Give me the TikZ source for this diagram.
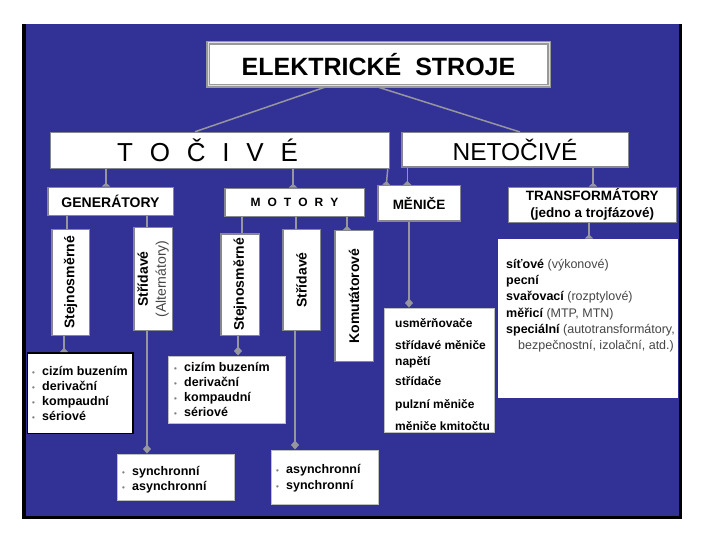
\documentclass[tikz,border=0pt]{standalone}
\usepackage{fontspec}
\setmainfont{Liberation Sans}
\usetikzlibrary{arrows.meta}

\definecolor{pozadi}{RGB}{50,50,150}
\definecolor{pozaditmave}{RGB}{27,27,92}
\definecolor{ramecek}{RGB}{135,135,145}
\definecolor{spoj}{RGB}{150,150,158}
\definecolor{zavorka}{RGB}{70,70,70}

\tikzset{
  krabice/.style={draw=ramecek, line width=1.5pt, fill=white, inner sep=0pt},
  svisla/.style={krabice, rotate=90, align=center,
    font=\fontsize{14}{18}\selectfont\bfseries},
  seznam/.style={draw=gray!50, line width=1pt, fill=white, inner sep=0pt},
  popis seznamu/.style={anchor=north west, inner sep=0pt, align=left,
    font=\fontsize{12.5}{15}\selectfont\bfseries},
  spojnice/.style={draw=spoj, line width=1.5pt},
  rozsireni/.style={spojnice, -{Triangle[reversed, length=4pt, width=8pt]}},
  kosoctverec/.style={spojnice, -{Diamond[length=9pt, width=8pt]}}
}
\newcommand{\odrazka}{\makebox[10pt][l]{\color{gray}\fontsize{8}{8}\selectfont •}}
\newcommand{\zav}[1]{{\mdseries\color{zavorka}#1}}

\begin{document}
\begin{tikzpicture}[x=1pt, y=-1pt]
  \useasboundingbox (0,0) rectangle (720,540);
  % pozadi
  \fill[black] (22,24) rectangle (682,519);
  \shade[top color=pozadi, middle color=pozaditmave, bottom color=pozadi] (26,25) rectangle (679,515);

  % horni uroven
  \node[krabice, draw=gray!80, double=gray!25, double distance=1pt, minimum width=341pt, minimum height=43pt,
    font=\fontsize{25}{30}\selectfont\bfseries] (stroje) at (378.5,64.4) {ELEKTRICKÉ\ \ STROJE};
  \node[krabice, minimum width=339pt, minimum height=36pt, font=\fontsize{26}{30}\selectfont] (tocive) at (220,150.5)
    {\spaceskip=16.8pt T O Č I V É\kern25pt};
  \node[krabice, minimum width=226.5pt, minimum height=34.5pt, font=\fontsize{24.5}{30}\selectfont] (netocive) at (515,150) {NETOČIVÉ};

  % druha uroven
  \node[krabice, minimum width=125.5pt, minimum height=28pt, font=\fontsize{14}{16}\selectfont\bfseries] (generatory) at (110.5,201.3) {GENERÁTORY};
  \node[krabice, minimum width=139.5pt, minimum height=28pt, font=\fontsize{12}{16}\selectfont\bfseries] (motory) at (294.5,202.3)
    {\spaceskip=7pt M O T O R Y};
  \node[krabice, minimum width=82.5pt, minimum height=35.5pt, font=\fontsize{13.5}{16}\selectfont\bfseries] (menice) at (419,203.5) {MĚNIČE};
  \node[krabice, minimum width=168pt, minimum height=35pt, align=center, font=\fontsize{13.5}{17}\selectfont\bfseries] (trans) at (592.3,204.8)
    {TRANSFORMÁTORY\\(jedno a trojfázové)};

  % svisle krabice
  \node[svisla, minimum width=105.5pt, minimum height=37.5pt] (gstejn) at (70.5,282.5) {Stejnosměrné};
  \node[svisla, minimum width=102.5pt, minimum height=38.5pt] (alt) at (153,279) {Střídavé\\\zav{(Alternátory)}};
  \node[svisla, minimum width=101.5pt, minimum height=38.5pt] (mstejn) at (240,284.5) {Stejnosměrné};
  \node[svisla, minimum width=100.5pt, minimum height=37.5pt] (mstr) at (301.5,280) {Střídavé};
  \node[svisla, minimum width=130.5pt, minimum height=38.5pt] (komut) at (354,296) {Komutátorové};

  % seznamy
  \node[seznam, draw=black, line width=1.5pt, minimum width=105.5pt, minimum height=80.5pt] (glist) at (80.3,393) {};
  \node[seznam, minimum width=117pt, minimum height=67pt] (mlist) at (226.5,389.5) {};
  \node[seznam, minimum width=117pt, minimum height=46.5pt] (altlist) at (175.5,477.3) {};
  \node[seznam, minimum width=107pt, minimum height=54pt] (aclist) at (324.5,477) {};
  \node[seznam, minimum width=110pt, minimum height=124.5pt] (menlist) at (439,370.3) {};
  \node[seznam, draw=none, minimum width=180pt, minimum height=159pt] (tlist) at (588,318.5) {};

  \node[popis seznamu] (glisttxt) at (32,366)
    {\odrazka cizím buzením\\\odrazka derivační\\\odrazka kompaudní\\\odrazka sériové};
  \node[popis seznamu] (mlisttxt) at (174,362)
    {\odrazka cizím buzením\\\odrazka derivační\\\odrazka kompaudní\\\odrazka sériové};
  \node[popis seznamu] (altlisttxt) at (122,466) {\odrazka synchronní\\\odrazka asynchronní};
  \node[popis seznamu, font=\fontsize{12.5}{16}\selectfont\bfseries] (aclisttxt) at (276,464)
    {\odrazka asynchronní\\\odrazka synchronní};
  \node[popis seznamu, font=\fontsize{12}{16}\selectfont\bfseries] (menlisttxt) at (395,318)
    {usměrňovače\\[6pt]střídavé měniče\\napětí\\[4pt]střídače\\[7pt]pulzní měniče\\[6pt]měniče kmitočtu};
  \node[popis seznamu, font=\fontsize{12.5}{16.2}\selectfont\bfseries] (tlisttxt) at (506,259)
    {síťové \zav{(výkonové)}\\pecní\\svařovací \zav{(rozptylové)}\\měřicí \zav{(MTP, MTN)}\\
     speciální \zav{(autotransformátory,}\\\hspace*{12pt}\zav{bezpečnostní, izolační, atd.)}};

  % spojnice
  \draw[spojnice] ([xshift=-52pt]stroje.south) -- ([xshift=-25pt]tocive.north);
  \draw[spojnice] ([xshift=-2pt]stroje.south) -- ([xshift=5pt]netocive.north);
  \draw[rozsireni] ([xshift=-114pt]tocive.south) -- ([xshift=-4.5pt]generatory.north);
  \draw[rozsireni] ([xshift=73pt]tocive.south) -- ([xshift=-1.5pt]motory.north);
  \draw[rozsireni] ([xshift=-2.5pt]tocive.south east) -- ([xshift=9.25pt]menice.north west);
  \draw[rozsireni] ([xshift=6.25pt]netocive.south west) -- ([xshift=30.25pt]menice.north west);
  \draw[rozsireni] ([xshift=78pt]netocive.south) -- ([xshift=0.7pt]trans.north);

  \draw[spojnice] ([xshift=-43.5pt]generatory.south) -- ([xshift=-3.5pt]gstejn.east);
  \draw[spojnice] ([xshift=36.5pt]generatory.south) -- ([xshift=-6pt]alt.east);
  \draw[spojnice] ([xshift=-52.5pt]motory.south) -- ([xshift=2pt]mstejn.east);
  \draw[spojnice] ([xshift=1.5pt]motory.south) -- ([xshift=-5.5pt]mstr.east);
  \draw[rozsireni] ([xshift=52.5pt]motory.south) -- ([xshift=-7pt]komut.east);

  \draw[rozsireni] ([xshift=-6.5pt]gstejn.west) -- ([xshift=-16.3pt]glist.north);
  \draw[kosoctverec] ([xshift=-6pt]alt.west) -- ([xshift=-28.5pt]altlist.north);
  \draw[kosoctverec] ([xshift=-2pt]mstejn.west) -- ([xshift=11.5pt]mlist.north);
  \draw[kosoctverec] ([xshift=-6.5pt]mstr.west) -- ([xshift=-29.5pt]aclist.north);
  \draw[kosoctverec] ([xshift=-10pt]menice.south) -- ([xshift=-30pt]menlist.north);
  \draw[rozsireni] ([xshift=-3.3pt]trans.south) -- ([xshift=1pt]tlist.north);
\end{tikzpicture}
\end{document}
